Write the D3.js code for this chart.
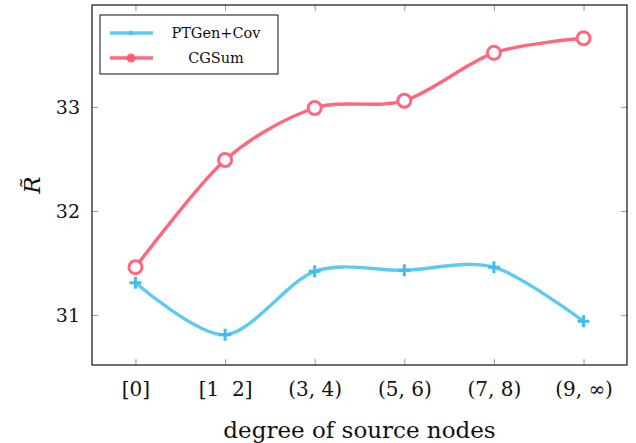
<!DOCTYPE html>
<html>
<head>
<meta charset="utf-8">
<script src="https://cdn.jsdelivr.net/npm/d3@7"></script>
<style>
  body { margin: 0; background: #fff; }
  svg text { fill: #111; white-space: pre; }
</style>
</head>
<body>
<div id="chart"></div>
<script>
const categories = ["[0]", "[1  2]", "(3, 4)", "(5, 6)", "(7, 8)", "(9, \u221E)"];
const ptgenValues = [31.31, 30.81, 31.42, 31.43, 31.46, 30.94];
const cgsumValues = [31.46, 32.49, 32.99, 33.06, 33.52, 33.66];
const yTicks = [31, 32, 33];

(() => {
  const width = 636;
  const height = 443;
  const margin = { top: 5, right: 9, bottom: 78, left: 92 };
  const w = width - margin.left - margin.right;
  const h = height - margin.top - margin.bottom;
  const serif = "DejaVu Serif";

  const svg = d3.select("#chart").append("svg")
    .attr("width", width)
    .attr("height", height);
  const g = svg.append("g")
    .attr("transform", `translate(${margin.left}, ${margin.top})`);

  const xScale = d3.scalePoint()
    .domain(categories)
    .range([0, w])
    .padding(0.485);

  const yScale = d3.scaleLinear()
    .domain([30.52, 33.98])
    .range([h, 0]);

  // ticks on all four sides, pointing inward
  const tickLen = 6;
  const tickStyle = (sel) => {
    sel.attr("font-family", serif).attr("font-size", null);
    sel.selectAll(".tick line").attr("stroke", "#999").attr("stroke-width", 1);
    sel.select(".domain").remove();
  };

  g.append("g")
    .attr("transform", `translate(0, ${h})`)
    .call(d3.axisBottom(xScale).tickSize(-tickLen).tickPadding(13))
    .call(tickStyle)
    .selectAll("text")
    .style("font-family", serif)
    .attr("font-size", "20px")
    .attr("dy", "0.9em");

  g.append("g")
    .call(d3.axisTop(xScale).tickSize(-tickLen).tickFormat(""))
    .call(tickStyle);

  g.append("g")
    .call(d3.axisLeft(yScale).tickValues(yTicks).tickFormat(d3.format("d")).tickSize(-tickLen).tickPadding(12))
    .call(tickStyle)
    .selectAll("text")
    .style("font-family", serif)
    .attr("font-size", "19px");

  g.append("g")
    .attr("transform", `translate(${w}, 0)`)
    .call(d3.axisRight(yScale).tickValues(yTicks).tickSize(-tickLen).tickFormat(""))
    .call(tickStyle);

  g.append("rect")
    .attr("width", w)
    .attr("height", h)
    .attr("fill", "none")
    .attr("stroke", "#111")
    .attr("stroke-width", 1.2);

  // Labels
  g.append("text")
    .attr("x", w / 2)
    .attr("y", h + 73)
    .attr("text-anchor", "middle")
    .style("font-family", serif)
    .attr("font-size", "23px")
    .text("degree of source nodes");

  g.append("text")
    .attr("transform", `translate(${-52}, ${180}) rotate(-90)`)
    .attr("text-anchor", "middle")
    .style("font-family", serif)
    .attr("font-size", "23px")
    .attr("font-style", "italic")
    .text("R\u0303");

  const blue = "#4cc6f0";
  const red = "#ff5770";

  const line = d3.line()
    .x((d, i) => xScale(categories[i]))
    .y((d) => yScale(d))
    .curve(d3.curveCardinal.tension(0.1));

  const series = [
    { name: "PTGen+Cov", values: ptgenValues, color: blue, marker: "plus" },
    { name: "CGSum", values: cgsumValues, color: red, marker: "circle" },
  ];

  series.forEach((s) => {
    const sg = g.append("g").attr("opacity", 0.9);
    sg.append("path")
      .datum(s.values)
      .attr("d", line)
      .attr("fill", "none")
      .attr("stroke", s.color)
      .attr("stroke-width", 3.4);
    if (s.marker === "circle") {
      sg.selectAll("circle")
        .data(s.values)
        .join("circle")
        .attr("cx", (d, i) => xScale(categories[i]))
        .attr("cy", (d) => yScale(d))
        .attr("r", 6.5)
        .attr("fill", "#fff")
        .attr("stroke", s.color)
        .attr("stroke-width", 3);
    } else {
      sg.selectAll("path.mk")
        .data(s.values)
        .join("path")
        .attr("class", "mk")
        .attr("transform", (d, i) => `translate(${xScale(categories[i])}, ${yScale(d)})`)
        .attr("d", "M-6,0H6M0,-6V6")
        .attr("stroke", "#2bb8ec")
        .attr("stroke-width", 3);
    }
  });

  // Legend
  const legend = g.append("g").attr("transform", "translate(8, 10)");
  legend.append("rect")
    .attr("width", 178)
    .attr("height", 59)
    .attr("fill", "#fff")
    .attr("stroke", "#111")
    .attr("stroke-width", 1);

  const items = legend.selectAll("g.item")
    .data(series)
    .join("g")
    .attr("class", "item")
    .attr("transform", (d, i) => `translate(0, ${18 + i * 25})`);

  items.append("line")
    .attr("x1", 10)
    .attr("x2", 53)
    .attr("stroke", (d) => d.color)
    .attr("stroke-width", 3.4)
    .attr("opacity", 0.9);

  items.append("circle")
    .attr("cx", 31)
    .attr("r", (d) => (d.marker === "circle" ? 4.5 : 2.5))
    .attr("fill", (d) => d.color)
    .attr("opacity", 0.9);

  items.append("text")
    .attr("x", 116)
    .attr("dy", "0.35em")
    .attr("text-anchor", "middle")
    .style("font-family", serif)
    .attr("font-size", "14.5px")
    .text((d) => d.name);
})();
</script>
</body>
</html>
